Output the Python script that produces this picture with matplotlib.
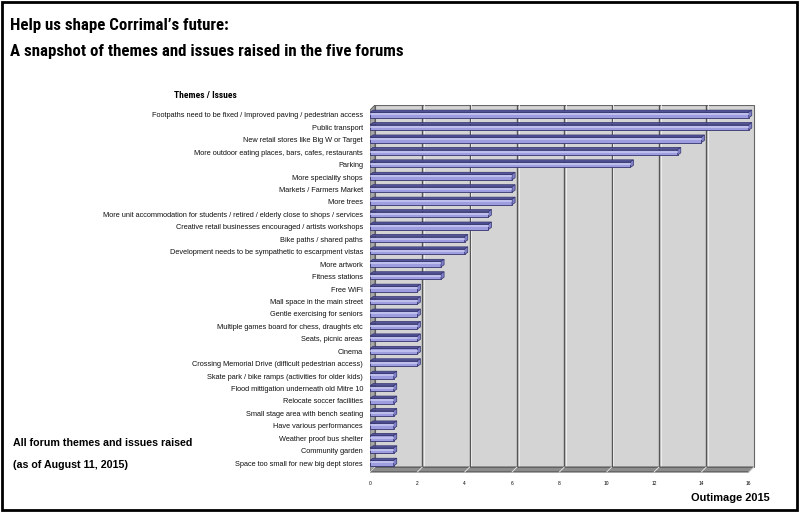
import matplotlib
matplotlib.use("Agg")
import matplotlib.pyplot as plt
from matplotlib import font_manager as fm
from matplotlib.patches import Polygon, Rectangle

plt.rcParams['font.family'] = ['Liberation Sans', 'DejaVu Sans']

themes = [
    "Footpaths need to be fixed / Improved paving / pedestrian access",
    "Public transport",
    "New retail stores like Big W or Target",
    "More outdoor eating places, bars, cafes, restaurants",
    "Parking",
    "More speciality shops",
    "Markets / Farmers Market",
    "More trees",
    "More unit accommodation for students / retired / elderly close to shops / services",
    "Creative retail businesses encouraged / artists workshops",
    "Bike paths / shared paths",
    "Development needs to be sympathetic to escarpment vistas",
    "More artwork",
    "Fitness stations",
    "Free WiFi",
    "Mall space in the main street",
    "Gentle exercising for seniors",
    "Multiple games board for chess, draughts etc",
    "Seats, picnic areas",
    "Cinema",
    "Crossing Memorial Drive (difficult pedestrian access)",
    "Skate park / bike ramps (activities for older kids)",
    "Flood mittigation underneath old Mitre 10",
    "Relocate soccer facilities",
    "Small stage area with bench seating",
    "Have various performances",
    "Weather proof bus shelter",
    "Community garden",
    "Space too small for new big dept stores",
]
counts = [16, 16, 14, 13, 11, 6, 6, 6, 5, 5, 4, 4, 3, 3,
          2, 2, 2, 2, 2, 2, 2, 1, 1, 1, 1, 1, 1, 1, 1]
xticks = list(range(0, 17, 2))

# pick a narrow bold face for the headline if one is installed
bold_names = {f.name for f in fm.fontManager.ttflist
              if (isinstance(f.weight, int) and f.weight >= 700) or f.weight == 'bold'}
narrow = 'Liberation Sans'
for cand in ['Arial Narrow', 'Liberation Sans Narrow', 'Roboto Condensed', 'Archivo Narrow',
             'PT Sans Narrow', 'Asap Condensed', 'Barlow Semi Condensed']:
    if cand in bold_names:
        narrow = cand
        break
narrow_fam = [narrow, 'Liberation Sans', 'DejaVu Sans']

# depth of the chart box and of the bars, in data units
wdx, wdy = 0.21, 0.40
bdx, bdy = 0.13, 0.17
bar_h = 0.44
wall_bottom = 28.32
floor_front = 28.72
top = -0.80

fig = plt.figure(figsize=(8, 5.12), dpi=100)
ax = fig.add_axes([370 / 800, 1 - 475 / 512, 387 / 800, 370 / 512])
ax.set_xlim(0, 16.35)
ax.set_ylim(28.96, top)

# back wall
ax.add_patch(Rectangle((wdx, top), 16, wall_bottom - top, facecolor='#d4d4d4',
                       edgecolor='#666666', lw=0.8, zorder=0))
for t in xticks[1:-1]:
    ax.plot([t + wdx, t + wdx], [top, wall_bottom], color='#555555', lw=1.0, zorder=1)
    ax.plot([t + wdx + 0.07, t + wdx + 0.07], [top, wall_bottom], color='#f2f2f2', lw=0.6, zorder=1)
# left wall
ax.add_patch(Polygon([(0, floor_front), (wdx, wall_bottom), (wdx, top), (0, top + wdy)],
                     facecolor='#a6a6a6', edgecolor='#555555', lw=0.6, zorder=1))
# floor
ax.add_patch(Polygon([(0, floor_front), (16, floor_front), (16 + wdx, wall_bottom), (wdx, wall_bottom)],
                     facecolor='#8c8c8c', edgecolor='#333333', lw=0.6, zorder=1))
for t in xticks:
    ax.plot([t, t + wdx], [floor_front, wall_bottom], color='#eeeeee', lw=0.6, zorder=2)

# bars: front face, thin top face, small end cap
for i, v in enumerate(counts):
    y0 = i - bar_h / 2
    ax.barh(i, v, height=bar_h, color='#9d9de0', edgecolor='#33336e', lw=0.6, zorder=3)
    ax.plot([0.03, v - 0.03], [i - bar_h * 0.12, i - bar_h * 0.12], color='#c6c6f2', lw=1.2, zorder=4)
    ax.add_patch(Polygon([(0, y0), (v, y0), (v + bdx, y0 - bdy), (bdx, y0 - bdy)],
                         facecolor='#55559c', edgecolor='#33336e', lw=0.5, zorder=3))
    ax.add_patch(Polygon([(v, y0), (v + bdx, y0 - bdy), (v + bdx, y0 + bar_h - bdy), (v, y0 + bar_h)],
                         facecolor='#8080c8', edgecolor='#33336e', lw=0.5, zorder=3))

ax.set_yticks(range(len(themes)))
ax.set_yticklabels(themes, fontsize=5.3, color='#111111')
ax.set_xticks(xticks)
ax.set_xticklabels([str(t) for t in xticks], fontsize=3.5)
ax.tick_params(length=0)
ax.tick_params(axis='y', pad=5)
ax.tick_params(axis='x', pad=4)
for s in ax.spines.values():
    s.set_visible(False)

t1 = fig.text(10 / 800, 1 - 30 / 512, "Help us shape Corrimal\u2019s future:", fontsize=13.5,
              fontweight='bold', family=narrow_fam)
t2 = fig.text(10 / 800, 1 - 56 / 512, "A snapshot of themes and issues raised in the five forums",
              fontsize=13.5, fontweight='bold', family=narrow_fam)
# fit the headline to its width in the reference (about 392 px)
r = fig.canvas.get_renderer()
w = t2.get_window_extent(r).width
size = min(16.0, 13.5 * 392 / w)
t1.set_fontsize(size)
t2.set_fontsize(size)

fig.text(205 / 800, 1 - 98 / 512, "Themes / Issues", fontsize=6.8, fontweight='bold',
         ha='center', family=narrow_fam)
fig.text(13 / 800, 1 - 446 / 512, "All forum themes and issues raised", fontsize=7.7, fontweight='bold')
fig.text(13 / 800, 1 - 468 / 512, "(as of August 11, 2015)", fontsize=7.7, fontweight='bold')
fig.text(770 / 800, 1 - 501 / 512, "Outimage 2015", fontsize=7.9, fontweight='bold', ha='right')

fig.add_artist(Rectangle((0.002, 0.004), 0.994, 0.992, transform=fig.transFigure,
                         fill=False, edgecolor='black', lw=2))

fig.savefig("out.png", dpi=100)
